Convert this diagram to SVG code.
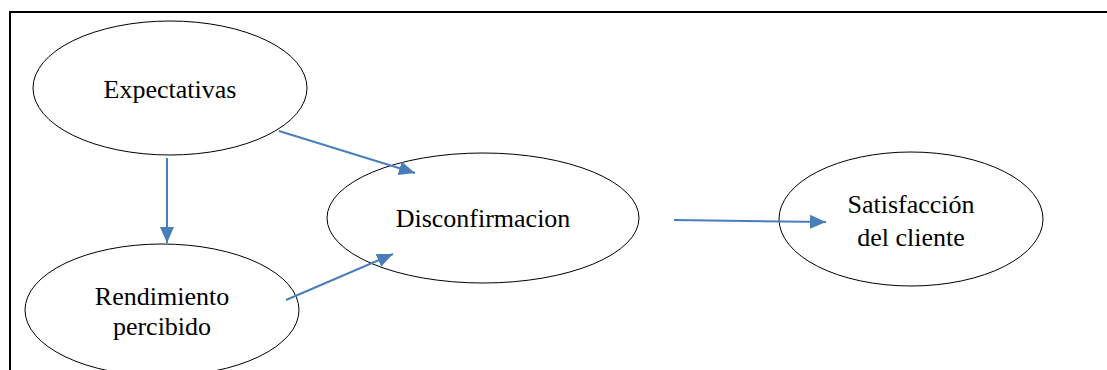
<svg xmlns="http://www.w3.org/2000/svg" width="1107" height="370" viewBox="0 0 1107 370">
<style>
.node ellipse{fill:#fff;stroke:#000;stroke-width:1}
.lbl{font-family:'Liberation Serif','Times New Roman',serif;font-size:26px;fill:#000;text-anchor:middle}
.conn line{stroke:#4A7EBB;stroke-width:2;marker-end:url(#ah)}
</style>
<defs>
<marker id="ah" markerUnits="userSpaceOnUse" markerWidth="17" markerHeight="14" refX="16" refY="7" orient="auto">
<path d="M0,0 L16,7 L0,14 Z" fill="#4A7EBB"/>
</marker>
</defs>
<rect width="1107" height="370" fill="#fff"/>
<g id="frame"><path d="M10,370 L10,12 L1107,12" fill="none" stroke="#000" stroke-width="2"/></g>
<g id="expectativas" class="node"><ellipse cx="170" cy="88" rx="137" ry="67"/><text class="lbl" x="170" y="98">Expectativas</text></g>
<g id="rendimiento" class="node"><ellipse cx="162" cy="310" rx="137" ry="66"/><text class="lbl" x="162" y="305">Rendimiento</text><text class="lbl" x="162" y="335">percibido</text></g>
<g id="disconfirmacion" class="node"><ellipse cx="483" cy="218" rx="156" ry="65"/><text class="lbl" x="483" y="227">Disconfirmacion</text></g>
<g id="satisfaccion" class="node"><ellipse cx="911" cy="219" rx="132" ry="67"/><text class="lbl" x="911" y="213">Satisfacción</text><text class="lbl" x="911" y="246">del cliente</text></g>
<g id="connectors" class="conn">
<line x1="279" y1="131" x2="415" y2="173"/>
<line x1="167" y1="158" x2="167" y2="243"/>
<line x1="286" y1="300" x2="393" y2="254"/>
<line x1="674" y1="220" x2="826" y2="222"/>
</g>
</svg>
